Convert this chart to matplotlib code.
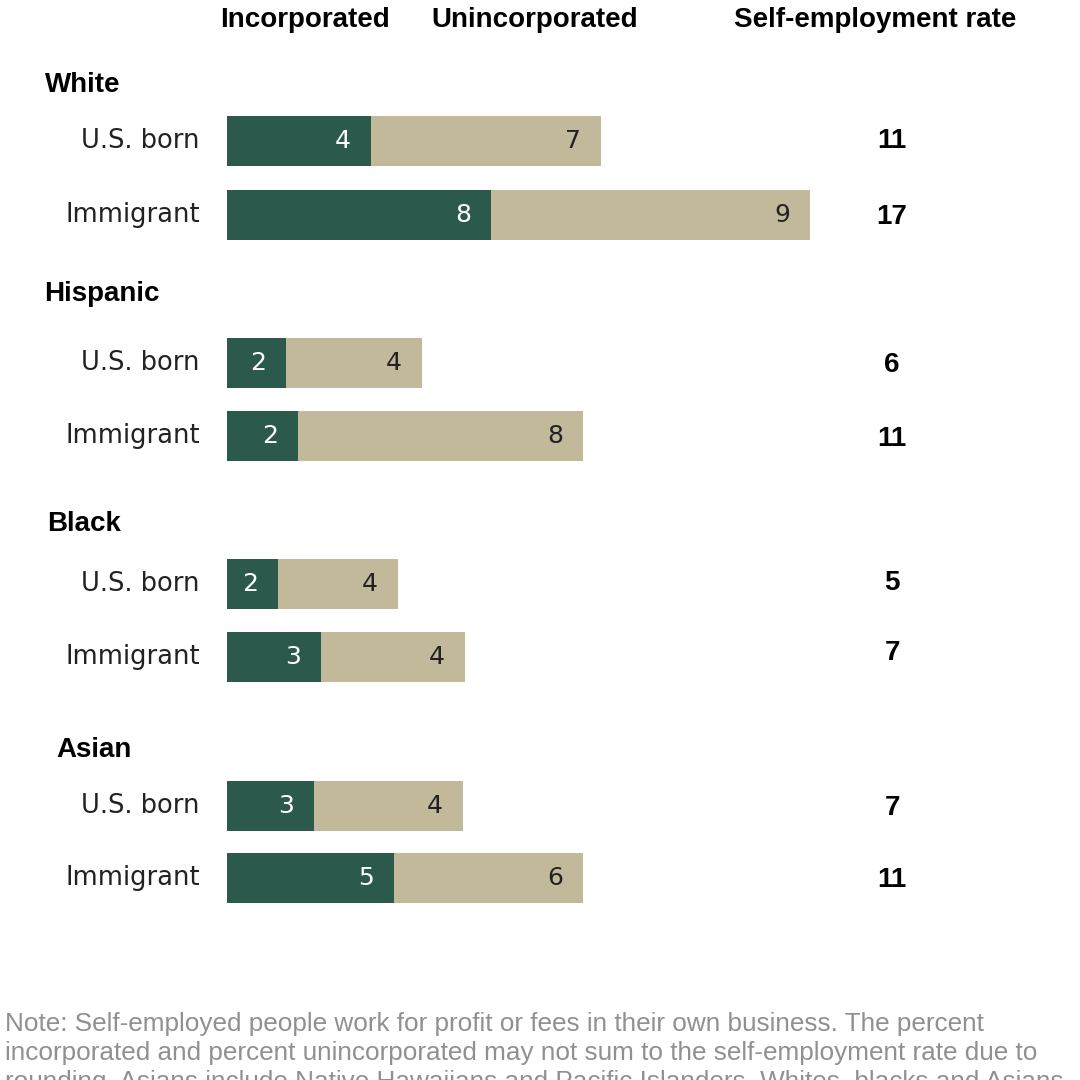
import matplotlib
matplotlib.use("Agg")
import matplotlib.pyplot as plt

# data
groups = ["White", "Hispanic", "Black", "Asian"]
rows = ["U.S. born", "Immigrant"]
incorporated = [4.24, 7.76, 1.74, 2.09, 1.5, 2.76, 2.56, 4.91]
unincorporated = [6.76, 9.38, 4.0, 8.38, 3.53, 4.24, 4.38, 5.56]
inc_labels = ["4", "8", "2", "2", "2", "3", "3", "5"]
uninc_labels = ["7", "9", "4", "8", "4", "4", "4", "6"]
rate_labels = ["11", "17", "6", "11", "5", "7", "7", "11"]

# layout in pixels (figure is 1080x1080)
row_y = [141, 215, 363, 436, 584, 657, 806, 878]
group_y = [85, 294, 524, 750]
group_x = [45, 44, 47, 56]
rate_y = [141, 217, 365, 439, 583, 653, 808, 880]
x0 = 227
scale = 34.0

green = "#2b5a4c"
tan = "#c2b99b"
head_font = ["Liberation Sans Narrow", "Liberation Sans", "DejaVu Sans"]
note_font = ["Liberation Sans Narrow", "Liberation Sans", "DejaVu Sans"]

def px(x):
    return (x - x0) / scale

fig = plt.figure(figsize=(10.8, 10.8), dpi=100)
ax = fig.add_axes([0, 0, 1, 1])
ax.set_xlim(px(0), px(1080))
ax.set_ylim(1080, 0)
ax.axis("off")

ax.barh(row_y, incorporated, height=50, left=0, color=green)
ax.barh(row_y, unincorporated, height=50, left=incorporated, color=tan)

off = 20 / scale
for i in range(len(row_y)):
    ax.text(incorporated[i] - off, row_y[i], inc_labels[i], ha="right",
            va="center", color="white", fontsize=18)
    ax.text(incorporated[i] + unincorporated[i] - off, row_y[i], uninc_labels[i],
            ha="right", va="center", color="#222222", fontsize=18)
    ax.text(px(200), row_y[i], rows[i % 2], ha="right", va="center",
            color="#222222", fontsize=18.5)
    ax.text(px(892), rate_y[i], rate_labels[i], ha="center", va="center",
            fontsize=20, fontweight="bold", family=head_font, color="black")

for g, gy, gx in zip(groups, group_y, group_x):
    ax.text(px(gx), gy, g, ha="left", va="center", fontsize=20,
            fontweight="bold", family=head_font, color="black")

ax.text(px(305), 20, "Incorporated", ha="center", va="center", fontsize=20,
        fontweight="bold", family=head_font)
ax.text(px(535), 20, "Unincorporated", ha="center", va="center", fontsize=20,
        fontweight="bold", family=head_font)
ax.text(px(875), 20, "Self-employment rate", ha="center", va="center",
        fontsize=20, fontweight="bold", family=head_font)

note = ("Note: Self-employed people work for profit or fees in their own business. The percent\n"
        "incorporated and percent unincorporated may not sum to the self-employment rate due to\n"
        "rounding. Asians include Native Hawaiians and Pacific Islanders. Whites, blacks and Asians")
ax.text(px(5), 1012, note, ha="left", va="top", fontsize=18.8, color="#909090",
        family=note_font, linespacing=1.26, clip_on=False)

fig.savefig("out.png", dpi=100)
